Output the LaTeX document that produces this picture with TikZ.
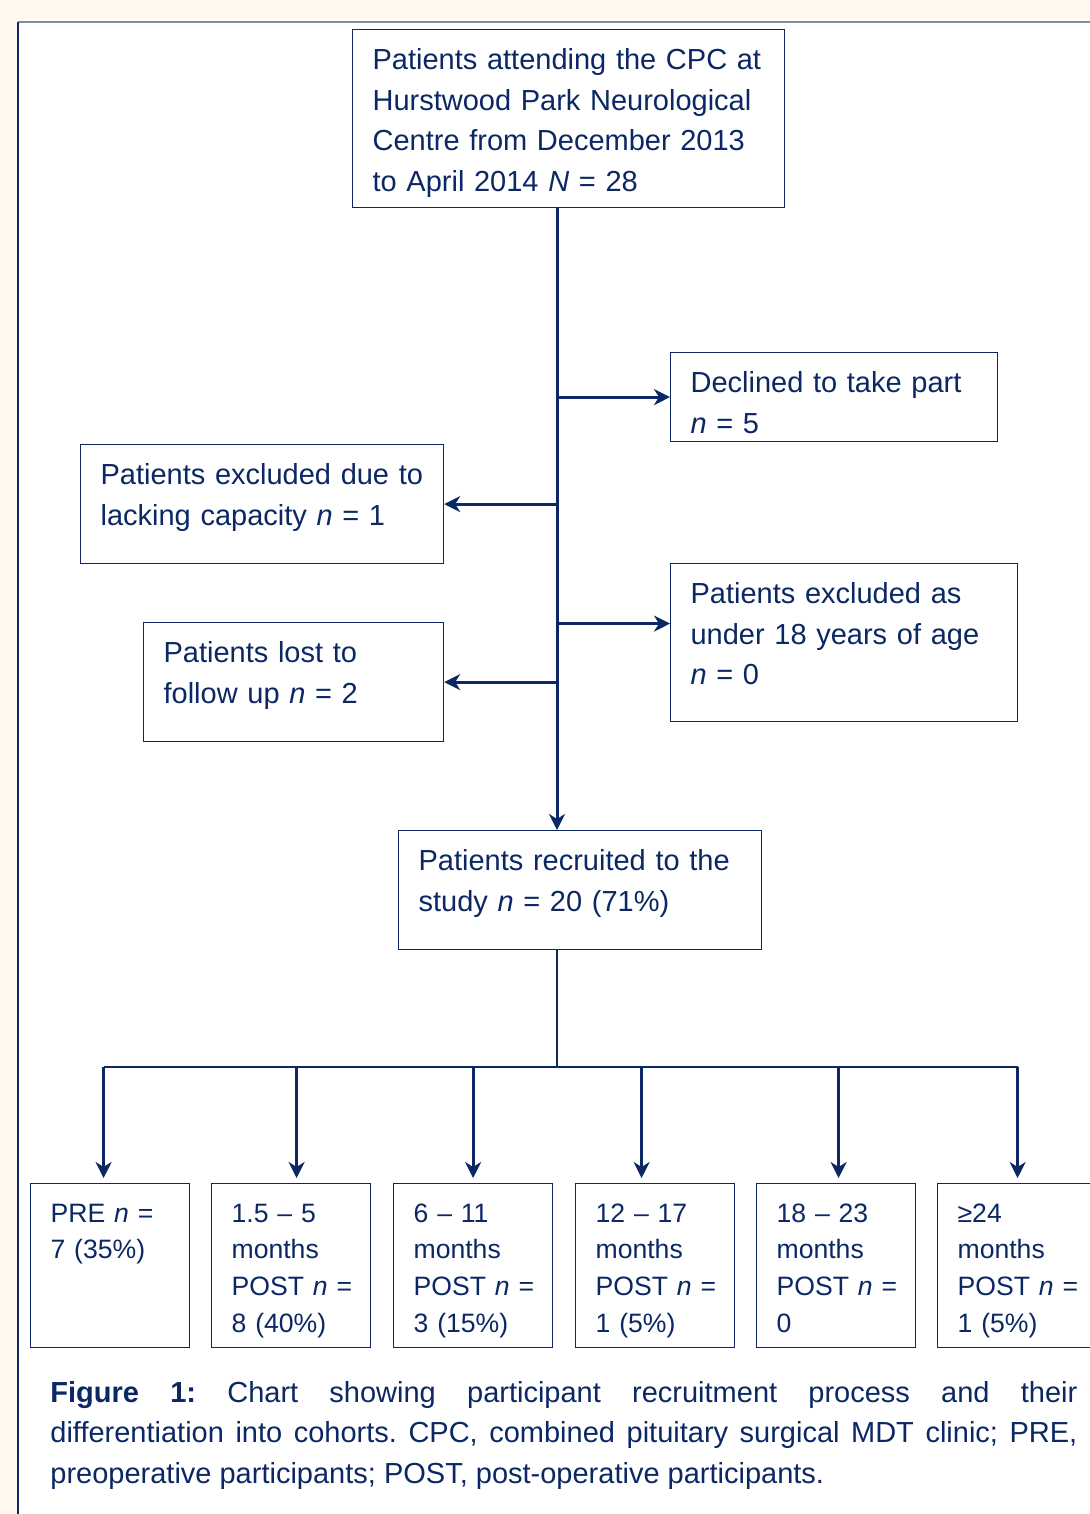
\documentclass[tikz,border=0pt]{standalone}
\usepackage{fontspec}
\setmainfont{Liberation Sans}
\usetikzlibrary{arrows.meta,positioning}
\definecolor{navy}{HTML}{0B2865}
\definecolor{cream}{HTML}{FFF9EF}
\definecolor{rimgray}{HTML}{7E8DAE}
\newcommand{\boxfont}{\fontsize{14.5}{20.25}\selectfont}
\newcommand{\cohortfont}{\fontsize{13.3}{18.35}\selectfont}
\frenchspacing

\begin{document}
\begin{tikzpicture}[x=0.5pt,y=-0.5pt,
		box/.style={draw=navy,line width=0.6pt,fill=white,text=navy,anchor=north west,align=left,inner xsep=10pt,inner ysep=0pt,text height=20pt,font=\boxfont},
		cohort/.style={box,text width=59.5pt,text height=19.25pt,text depth=62.75pt,font=\cohortfont},
		flow/.style={navy,line width=1.5pt,-{Stealth[length=8pt,width=8pt,inset=2.5pt]}},
		busline/.style={navy,line width=0.6pt}]
	\useasboundingbox (0,0) rectangle (1090,1514);
	\fill[cream] (0,0) rectangle (1090,1514);
	\fill[white] (18,22) rectangle (1090,1514);
	\draw[rimgray,line width=0.75pt] (18,22) -- (1090,22);
	\draw[navy,line width=0.6pt] (18,22) -- (18,1514);

	\node[box,text width=196pt,text depth=69pt] (attend) at (352,29) {Patients attending the CPC at\\Hurstwood Park Neurological\\Centre from December 2013\\to April 2014 \textit{N}~=~28};
	\node[box,text width=143.5pt,text depth=24.5pt] (declined) at (670,352) {Declined to take part\\\textit{n}~=~5};
	\node[box,text width=161.5pt,text depth=39.5pt] (capacity) at (80,444) {Patients excluded due to\\lacking capacity \textit{n}~=~1};
	\node[box,text width=153.5pt,text depth=59pt] (under) at (670,563) {Patients excluded as\\under 18 years of age\\\textit{n}~=~0};
	\node[box,text width=130pt,text depth=39.5pt] (lost) at (143,622) {Patients lost to\\follow up \textit{n}~=~2};
	\node[box,text width=161.5pt,text depth=39.5pt] (recruit) at (398,830) {Patients recruited to the\\study \textit{n}~=~20 (71\%)};

	\node[cohort] (pre) at (30,1183) {PRE~\textit{n}~=\\7 (35\%)};
	\node[cohort] (post1) at (211,1183) {1.5 -- 5\\months\\POST~\textit{n}~=\\8 (40\%)};
	\node[cohort] (post2) at (393,1183) {6 -- 11\\months\\POST~\textit{n}~=\\3 (15\%)};
	\node[cohort] (post3) at (575,1183) {12 -- 17\\months\\POST~\textit{n}~=\\1 (5\%)};
	\node[cohort] (post4) at (756,1183) {18 -- 23\\months\\POST~\textit{n}~=\\0};
	\node[cohort] (post5) at (937,1183) {≥24\\months\\POST~\textit{n}~=\\1 (5\%)};

	\node[anchor=north west,text width=513.5pt,align=justify,inner sep=0pt,text height=20pt,font=\boxfont,text=navy] (caption) at (50,1362) {\textbf{Figure 1:} Chart showing participant recruitment process and their\linebreak differentiation into cohorts. CPC, combined pituitary surgical MDT clinic; PRE,\linebreak preoperative participants; POST, post-operative participants.};

	\coordinate (spine) at (557,0);
	\coordinate (bus) at (0,1067);
	\coordinate (under-in) at ([yshift=9.5pt]under.west);
	\draw[flow] (attend.south -| spine) -- (recruit.north -| spine);
	\draw[flow] (declined.west -| spine) -- (declined.west);
	\draw[flow] (capacity.east -| spine) -- (capacity.east);
	\draw[flow] (under-in -| spine) -- (under-in);
	\draw[flow] (lost.east -| spine) -- (lost.east);

	\draw[busline] (recruit.south -| spine) -- (bus -| spine);
	\foreach \c/\dx in {pre/-3.25,post1/2.75,post2/0,post3/-6.75,post4/1.25,post5/0.25}
		\coordinate (tip-\c) at ([xshift=\dx pt,yshift=2.5pt]\c.north);
	\draw[busline] (bus -| tip-pre) -- (bus -| tip-post5);
	\foreach \c in {pre,post1,post2,post3,post4,post5}
		\draw[flow] (bus -| tip-\c) -- (tip-\c);
\end{tikzpicture}
\end{document}
